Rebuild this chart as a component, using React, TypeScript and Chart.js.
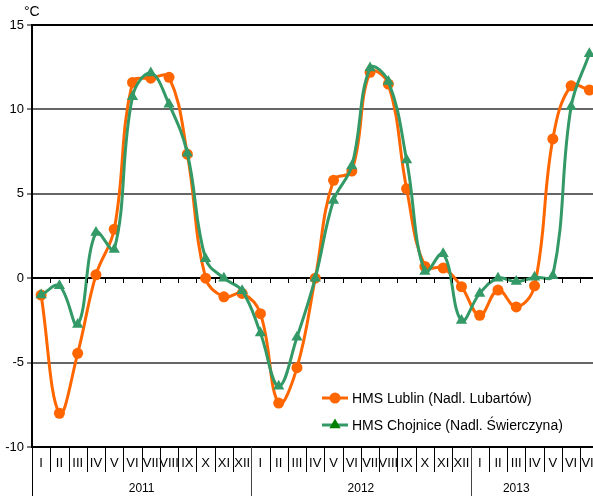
import React, { useEffect, useRef } from "react";
import { Chart, registerables } from "chart.js";

Chart.register(...registerables);

const months = [
  "I", "II", "III", "IV", "V", "VI", "VII", "VIII", "IX", "X", "XI", "XII",
  "I", "II", "III", "IV", "V", "VI", "VII", "VIII", "IX", "X", "XI", "XII",
  "I", "II", "III", "IV", "V", "VI", "VII",
];
const years = ["2011", "2012", "2013"];
const yearSpans = [12, 12, 7];
const lublin = [
  -1.0, -8.0, -4.45, 0.2, 2.9, 11.6, 11.85, 11.9, 7.35, 0.0, -1.1, -0.9,
  -2.1, -7.4, -5.3, 0.0, 5.8, 6.35, 12.2, 11.5, 5.3, 0.7, 0.6, -0.5,
  -2.2, -0.7, -1.7, -0.45, 8.25, 11.4, 11.15,
];
const chojnice = [
  -1.0, -0.45, -2.75, 2.7, 1.7, 10.75, 12.15, 10.3, 7.4, 1.15, 0.0, -0.75,
  -3.25, -6.4, -3.5, 0.0, 4.6, 6.65, 12.45, 11.65, 7.0, 0.4, 1.45, -2.5,
  -0.9, 0.0, -0.2, 0.05, 0.15, 10.15, 13.3,
];
const yTicks = [-10, -5, 0, 5, 10, 15];
const seriesNames = ["HMS Lublin (Nadl. Lubartów)", "HMS Chojnice (Nadl. Świerczyna)"];
const unitLabel = "°C";

const FONT = "'Liberation Sans', Arial, sans-serif";
const ORANGE = "#FF6600";
const GREEN = "#339966";
const DARK_GREEN = "#008000";

const customPlugin = {
  id: "customAxis",
  afterDraw(chart: any) {
    const ctx = chart.ctx as CanvasRenderingContext2D;
    const xs = chart.scales.x;
    const ys = chart.scales.y;
    const area = chart.chartArea;
    const y0 = ys.getPixelForValue(0);
    const n = months.length;
    const H = chart.height;
    ctx.save();

    ctx.lineWidth = 1;
    const yearBounds = new Set<number>();
    let acc = 0;
    yearBounds.add(0);
    for (const s of yearSpans) { acc += s; yearBounds.add(acc); }
    for (let k = 0; k <= n; k++) {
      const px = Math.round(xs.getPixelForValue(k - 0.5)) + 0.5;
      ctx.strokeStyle = "#000";
      ctx.beginPath();
      ctx.moveTo(px, Math.round(y0));
      ctx.lineTo(px, Math.round(y0) + 5);
      ctx.stroke();
      ctx.beginPath();
      ctx.moveTo(px, area.bottom);
      ctx.lineTo(px, yearBounds.has(k) ? H : area.bottom + 25);
      ctx.strokeStyle = yearBounds.has(k) && k > 0 ? "#444" : "#000";
      ctx.stroke();
    }

    ctx.fillStyle = "#000";
    ctx.font = `13px ${FONT}`;
    ctx.textAlign = "center";
    ctx.textBaseline = "middle";
    for (let i = 0; i < n; i++) {
      ctx.fillText(months[i], xs.getPixelForValue(i), area.bottom + 16);
    }

    ctx.font = `12px ${FONT}`;
    let start = 0;
    years.forEach((yr, j) => {
      const span = yearSpans[j];
      const shown = span < 12 ? span - 2 : span;
      const a = xs.getPixelForValue(start - 0.5);
      const b = xs.getPixelForValue(start - 0.5 + shown);
      ctx.fillText(yr, (a + b) / 2, H - 7);
      start += span;
    });

    ctx.textAlign = "left";
    ctx.font = `14px ${FONT}`;
    ctx.fillText(unitLabel, 24, 12);

    const lx = 316;
    const ly = 383;
    ctx.fillStyle = "#fff";
    ctx.fillRect(lx, ly, chart.width - lx, 54);
    const items = [
      { y: 398, color: ORANGE, marker: "circle", mcolor: ORANGE },
      { y: 425, color: GREEN, marker: "triangle", mcolor: DARK_GREEN },
    ];
    items.forEach((it, i) => {
      ctx.strokeStyle = it.color;
      ctx.lineWidth = 3;
      ctx.beginPath();
      ctx.moveTo(322, it.y);
      ctx.lineTo(348, it.y);
      ctx.stroke();
      ctx.fillStyle = it.mcolor;
      ctx.beginPath();
      if (it.marker === "circle") {
        ctx.arc(335, it.y, 5.5, 0, Math.PI * 2);
      } else {
        const r = 6.5;
        ctx.moveTo(335, it.y - r);
        ctx.lineTo(335 + r * Math.sin((2 * Math.PI) / 3), it.y + r / 2);
        ctx.lineTo(335 - r * Math.sin((2 * Math.PI) / 3), it.y + r / 2);
        ctx.closePath();
      }
      ctx.fill();
      ctx.fillStyle = "#000";
      ctx.font = `14px ${FONT}`;
      ctx.textAlign = "left";
      ctx.textBaseline = "middle";
      ctx.fillText(seriesNames[i], 352, it.y + 1);
    });

    ctx.restore();
  },
};

export default function App() {
  const ref = useRef<HTMLCanvasElement | null>(null);
  useEffect(() => {
    if (!ref.current) return;
    const chart = new Chart(ref.current, {
      type: "line",
      data: {
        labels: months,
        datasets: [
          {
            label: seriesNames[0],
            data: lublin,
            borderColor: ORANGE,
            backgroundColor: ORANGE,
            borderWidth: 3,
            pointStyle: "circle",
            pointRadius: 5.5,
            pointBorderWidth: 0,
            pointBackgroundColor: ORANGE,
            tension: 0.4,
            order: 1,
          },
          {
            label: seriesNames[1],
            data: chojnice,
            borderColor: GREEN,
            backgroundColor: GREEN,
            borderWidth: 3,
            pointStyle: "triangle",
            pointRadius: 6.5,
            pointBorderWidth: 0,
            pointBackgroundColor: GREEN,
            tension: 0.4,
            order: 0,
          },
        ],
      },
      options: {
        responsive: true,
        maintainAspectRatio: false,
        animation: false,
        events: [],
        layout: { padding: { top: 25, bottom: 49, left: 0, right: 0 } },
        plugins: { legend: { display: false }, tooltip: { enabled: false } },
        scales: {
          x: {
            type: "category",
            offset: true,
            display: false,
          },
          y: {
            min: -10,
            max: 15,
            afterBuildTicks: (s: any) => {
              s.ticks = yTicks.map((v) => ({ value: v }));
            },
            afterFit: (s: any) => {
              s.width = 32;
            },
            ticks: {
              color: "#000",
              font: { family: FONT, size: 13 },
              padding: 3,
            },
            grid: {
              color: (c: any) =>
                c.tick && (c.tick.value === 0 || c.tick.value === 15 || c.tick.value === -10)
                  ? "#000"
                  : "#666",
              lineWidth: 2,
              tickLength: 5,
              tickColor: "#000",
              tickWidth: 1,
            },
            border: { display: true, color: "#000", width: 2 },
          },
        },
      },
      plugins: [customPlugin],
    } as any);
    return () => chart.destroy();
  }, []);
  return (
    <div
      style={{
        position: "absolute",
        left: 0,
        top: 0,
        width: 593,
        height: 496,
        overflow: "hidden",
        background: "#fff",
      }}
    >
      <div style={{ position: "relative", width: 605, height: 496 }}>
        <canvas ref={ref} />
      </div>
    </div>
  );
}
